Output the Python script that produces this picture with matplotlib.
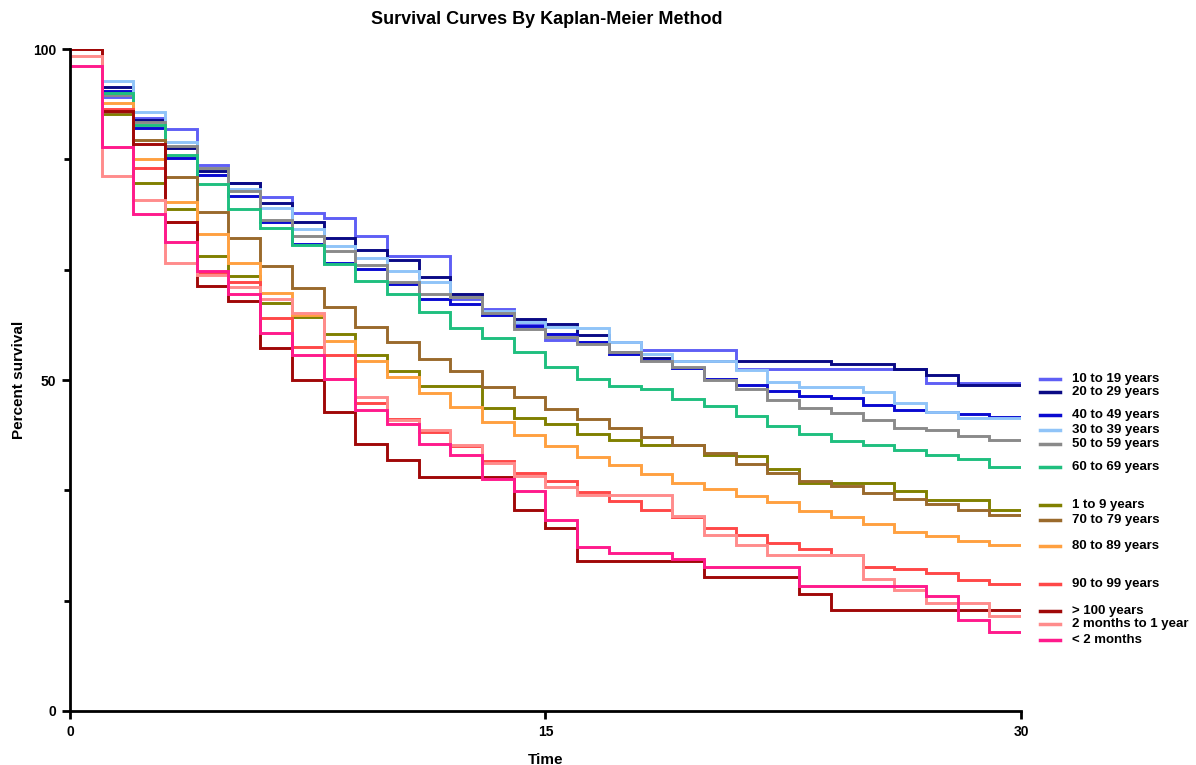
import numpy as np
import matplotlib
matplotlib.use("Agg")
import matplotlib.pyplot as plt
from matplotlib.ticker import MultipleLocator

plt.rcParams['font.family'] = ['Liberation Sans', 'DejaVu Sans']
plt.rcParams['font.weight'] = 'bold'

# percent surviving over each interval [t, t+1), t = 0..29
groups = ["10 to 19 years", "20 to 29 years", "40 to 49 years", "30 to 39 years",
          "50 to 59 years", "60 to 69 years", "1 to 9 years", "70 to 79 years",
          "80 to 89 years", "90 to 99 years", "> 100 years", "2 months to 1 year",
          "< 2 months"]

age_10_19 = [100, 92.7, 89.6, 87.9, 82.5, 79.7, 77.7, 75.2, 74.4, 71.7,
             68.7, 68.7, 62.3, 60.8, 58.5, 56.1, 55.8, 55.8, 54.6, 54.6,
             54.6, 51.6, 51.6, 51.6, 51.6, 51.6, 51.6, 49.6, 49.6, 49.6]
age_20_29 = [100, 94.3, 89.3, 85.0, 81.6, 79.8, 76.7, 73.9, 71.5, 69.6,
             68.2, 65.6, 63.0, 60.3, 59.2, 58.5, 56.8, 54.3, 53.3, 52.9,
             52.9, 52.9, 52.9, 52.9, 52.4, 52.4, 51.6, 50.8, 49.2, 49.2]
age_40_49 = [100, 93.6, 88.0, 83.6, 81.0, 77.8, 73.9, 70.6, 67.7, 66.7,
             64.5, 62.2, 61.5, 59.8, 58.2, 57.0, 55.8, 54.0, 53.0, 51.8,
             50.2, 49.2, 48.3, 47.6, 47.3, 46.2, 45.5, 45.1, 44.9, 44.4]
age_30_39 = [100, 95.2, 90.5, 86.0, 82.1, 78.8, 76.0, 72.8, 70.2, 68.5,
             66.4, 64.8, 62.5, 60.5, 58.8, 58.0, 57.8, 55.8, 54.0, 52.8,
             52.8, 51.5, 49.7, 49.0, 49.0, 48.2, 46.6, 45.1, 44.2, 44.2]
age_50_59 = [100, 93.0, 89.0, 85.3, 82.0, 78.5, 74.2, 71.7, 69.5, 67.4,
             64.8, 63.0, 62.5, 60.1, 57.7, 56.5, 55.4, 54.3, 52.9, 52.0,
             50.0, 48.6, 47.0, 45.7, 45.0, 44.0, 42.8, 42.4, 41.5, 40.9]
age_60_69 = [100, 93.4, 88.5, 84.0, 79.6, 75.9, 72.9, 70.4, 67.6, 65.0,
             63.0, 60.3, 57.8, 56.3, 54.2, 52.0, 50.2, 49.1, 48.6, 47.2,
             46.0, 44.5, 43.1, 41.8, 40.8, 40.2, 39.4, 38.6, 38.1, 36.9]
age_1_9 = [100, 90.2, 79.7, 75.9, 68.7, 65.7, 61.7, 59.5, 57.0, 53.8,
           51.3, 49.1, 49.1, 45.7, 44.2, 43.4, 41.8, 41.0, 40.2, 40.2,
           38.7, 38.5, 36.5, 34.4, 34.4, 34.4, 33.2, 31.9, 31.9, 30.4]
age_70_79 = [100, 90.5, 86.3, 80.7, 75.4, 71.5, 67.2, 63.9, 61.0, 58.0,
             55.8, 53.2, 51.4, 49.0, 47.5, 45.6, 44.1, 42.7, 41.4, 40.2,
             39.0, 37.3, 35.9, 34.8, 34.0, 32.9, 32.1, 31.3, 30.4, 29.6]
age_80_89 = [100, 91.8, 83.4, 76.9, 72.0, 67.7, 63.2, 59.8, 55.9, 52.9,
             50.5, 48.0, 45.9, 43.7, 41.7, 40.1, 38.4, 37.2, 35.8, 34.5,
             33.5, 32.5, 31.5, 30.2, 29.3, 28.2, 27.1, 26.4, 25.7, 25.1]
age_90_99 = [100, 91.0, 82.0, 73.9, 66.2, 64.8, 59.3, 55.0, 53.8, 46.6,
             44.1, 42.2, 40.0, 37.7, 35.9, 34.8, 33.1, 31.7, 30.4, 29.3,
             27.7, 26.6, 25.4, 24.5, 23.6, 21.8, 21.4, 20.9, 19.8, 19.2]
age_over_100 = [100, 90.7, 85.6, 73.8, 64.2, 62.0, 54.8, 50.0, 45.2, 40.4,
                37.9, 35.4, 35.4, 35.4, 30.4, 27.7, 22.7, 22.7, 22.7, 22.7,
                20.3, 20.3, 20.3, 17.7, 15.2, 15.2, 15.2, 15.2, 15.2, 15.2]
age_2mo_1yr = [99.0, 80.8, 77.2, 67.7, 65.9, 64.0, 62.3, 60.1, 50.2, 47.5,
               44.0, 42.4, 40.2, 37.4, 35.5, 33.9, 32.6, 32.6, 32.6, 29.5,
               26.6, 25.1, 23.6, 23.6, 23.6, 19.9, 18.3, 16.3, 16.3, 14.4]
age_under_2mo = [97.5, 85.2, 75.1, 70.9, 66.5, 63.0, 57.1, 53.8, 50.1, 45.4,
                 43.4, 40.4, 38.7, 35.1, 33.3, 28.9, 24.8, 23.9, 23.9, 22.9,
                 21.7, 21.7, 21.7, 18.9, 18.9, 18.9, 18.9, 17.3, 13.7, 12.0]

series = [age_10_19, age_20_29, age_40_49, age_30_39, age_50_59, age_60_69,
          age_1_9, age_70_79, age_80_89, age_90_99, age_over_100,
          age_2mo_1yr, age_under_2mo]

colors = ["#5f5ff5", "#0a0a85", "#0a0ad0", "#90c4f8", "#8a8a8a", "#1fbf7f",
          "#808000", "#9a6a2c", "#ffa040", "#ff4848", "#a00808", "#ff8c8c",
          "#ff1a8c"]

# where each name sits in the right-hand key (percent units)
label_y = [50.2, 48.2, 44.7, 42.4, 40.3, 36.9, 31.1, 28.9, 24.9, 19.2, 15.1, 13.1, 10.7]

fig = plt.figure(figsize=(11.96, 7.65), dpi=100)
ax = fig.add_axes([0.0585, 0.0706, 0.7952, 0.8653])

# draw the bottom groups last so they sit on top, like the early drops at t=0
for vals, col in zip(series, colors):
    t = [0] + list(range(31))
    s = [100] + vals + [vals[-1]]
    ax.step(t, s, where='post', color=col, lw=2.1, solid_joinstyle='miter')

ax.set_xlim(0, 30)
ax.set_ylim(0, 100)
ax.xaxis.set_major_locator(MultipleLocator(15))
ax.yaxis.set_major_locator(MultipleLocator(50))
ax.yaxis.set_minor_locator(MultipleLocator(50 / 3))
for side in ['top', 'right']:
    ax.spines[side].set_visible(False)
for side in ['left', 'bottom']:
    ax.spines[side].set_linewidth(2)
ax.tick_params(which='major', length=6, width=2, labelsize=10, pad=4)
ax.tick_params(which='minor', length=4, width=2)
for lab in ax.get_xticklabels() + ax.get_yticklabels():
    lab.set_fontweight('bold')

ax.set_xlabel("Time", fontsize=11, fontweight='bold', labelpad=10)
ax.set_ylabel("Percent survival", fontsize=11, fontweight='bold', labelpad=5)
fig.suptitle("Survival Curves By Kaplan-Meier Method", x=0.457, y=0.985,
             fontsize=13, fontweight='bold')

# key at the end of each curve
tr = ax.get_yaxis_transform()
for name, col, yv in zip(groups, colors, label_y):
    ax.plot([1.020, 1.041], [yv, yv], transform=tr,
            color=col, lw=2.5, clip_on=False)
    ax.text(1.0536, yv, name, transform=tr,
            fontsize=9.5, fontweight='bold', va='center', ha='left')

fig.savefig("out.png", dpi=100)
